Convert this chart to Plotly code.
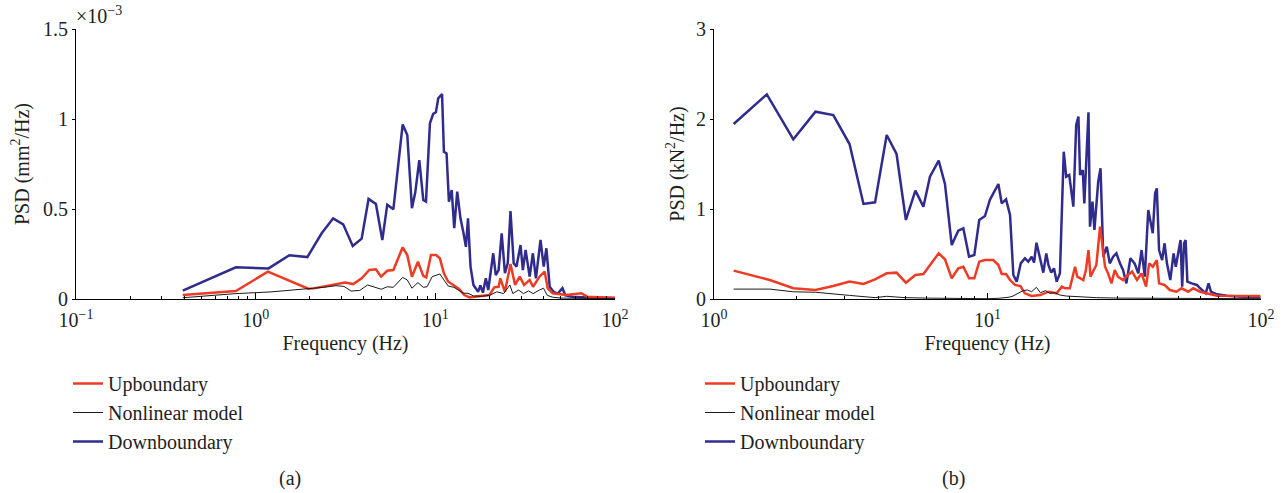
import plotly.graph_objects as go

# ---------------- Data (a) : displacement PSD (x1e-3 mm^2/Hz) ----------------
a_down_f = [0.393, 0.776, 1.18, 1.54, 1.94, 2.33, 2.70, 3.07, 3.47, 3.89, 4.25, 4.67, 5.07, 5.40,
            5.84, 6.58, 6.98, 7.41, 7.73, 8.14, 8.57, 8.87, 9.33, 9.73, 10.07, 10.38, 10.9, 11.16,
            11.55, 11.9, 12.33, 12.74, 13.24, 13.8, 14.3, 14.8, 15.2, 15.7, 16.3, 16.8, 17.3, 17.8,
            18.4, 19.1, 19.7, 21.0, 21.7, 22.5, 23.4, 24.4, 25.3, 26.2, 27.3, 28.3, 29.8, 30.7,
            31.8, 33.5, 34.9, 36.3, 38.5, 40.1, 41.5, 43.3, 45.5, 48.0, 51.0, 53.0, 58.0, 65.0,
            75.0, 85.0, 100.0]
a_down_v = [0.046, 0.176, 0.170, 0.243, 0.233, 0.365, 0.448, 0.415, 0.294, 0.335, 0.556, 0.528,
            0.328, 0.524, 0.498, 0.970, 0.911, 0.504, 0.591, 0.772, 0.550, 0.541, 0.976, 1.028,
            1.037, 1.115, 1.139, 0.818, 0.809, 0.540, 0.605, 0.393, 0.596, 0.448, 0.374, 0.290,
            0.448, 0.180, 0.078, 0.060, 0.040, 0.075, 0.035, 0.115, 0.050, 0.254, 0.133, 0.160,
            0.365, 0.143, 0.200, 0.489, 0.198, 0.180, 0.300, 0.160, 0.272, 0.124, 0.254, 0.115,
            0.328, 0.180, 0.282, 0.068, 0.040, 0.030, 0.060, 0.020, 0.012, 0.010, 0.008, 0.006,
            0.005]

a_up_f = [0.393, 0.776, 1.17, 1.96, 2.10, 2.70, 3.15, 3.49, 3.89, 4.29, 4.67, 4.99, 5.40, 5.84,
          6.58, 6.98, 7.41, 8.0, 8.57, 8.9, 9.45, 10.1, 10.6, 11.16, 11.8, 12.6, 13.6, 14.5, 15.5,
          17.8, 20.0, 21.3, 22.5, 23.0, 24.4, 26.2, 27.8, 29.5, 31.2, 33.5, 35.0, 38.0, 40.6,
          42.2, 45.0, 53.5, 65.0, 70.0, 100.0]
a_up_v = [0.022, 0.044, 0.152, 0.057, 0.059, 0.080, 0.091, 0.083, 0.115, 0.161, 0.165, 0.124,
          0.157, 0.161, 0.287, 0.244, 0.124, 0.207, 0.128, 0.120, 0.244, 0.244, 0.226, 0.143,
          0.096, 0.078, 0.054, 0.022, 0.009, 0.017, 0.022, 0.065, 0.068, 0.115, 0.040, 0.194,
          0.078, 0.124, 0.078, 0.106, 0.068, 0.124, 0.152, 0.060, 0.032, 0.022, 0.032, 0.013,
          0.005]

a_nl_f = [0.393, 0.776, 1.2, 1.6, 2.0, 2.4, 2.8, 3.1, 3.4, 3.8, 4.2, 4.67, 5.0, 5.4, 5.84, 6.58,
          6.98, 7.41, 8.0, 8.57, 9.0, 9.6, 10.6, 11.16, 11.8, 12.7, 13.4, 14.3, 15.2, 16.3, 18.0,
          20.0, 22.0, 24.0, 26.0, 27.0, 29.0, 31.0, 33.0, 35.0, 38.0, 40.0, 42.0, 45.0, 50.0,
          100.0]
a_nl_v = [0.007, 0.030, 0.039, 0.050, 0.055, 0.065, 0.074, 0.070, 0.044, 0.048, 0.078, 0.065,
          0.054, 0.068, 0.065, 0.120, 0.106, 0.060, 0.091, 0.065, 0.068, 0.124, 0.139, 0.106,
          0.072, 0.065, 0.050, 0.032, 0.032, 0.017, 0.015, 0.020, 0.040, 0.030, 0.078, 0.030,
          0.050, 0.030, 0.045, 0.030, 0.050, 0.060, 0.020, 0.010, 0.005, 0.002]

# ---------------- Data (b) : force PSD (kN^2/Hz) ----------------
b_down_f = [1.18, 1.56, 1.95, 2.35, 2.73, 3.13, 3.52, 3.88, 4.28, 4.65, 5.03, 5.45, 5.83, 6.16,
            6.63, 6.99, 7.40, 7.82, 8.16, 8.56, 8.95, 9.33, 9.79, 10.2, 10.5, 10.96, 11.27, 11.69,
            12.09, 12.43, 12.79, 13.23, 13.7, 14.1, 14.5, 14.8, 15.1, 15.6, 16.0, 16.4, 16.7, 17.1,
            17.5, 17.9, 18.4, 19.0, 19.4, 19.9, 20.3, 20.6, 21.1, 21.5, 21.8, 22.3, 22.6, 22.9,
            23.4, 23.7, 24.2, 24.6, 25.4, 25.9, 26.5, 27.3, 28.0, 28.8, 29.6, 30.5, 31.3, 32.2,
            33.3, 34.5, 35.6, 36.6, 37.6, 38.7, 39.4, 40.2, 41.0, 41.6, 42.4, 43.5, 44.4, 45.3,
            46.6, 47.9, 48.8, 49.9, 50.8, 51.5, 52.3, 53.0, 53.8, 55.8, 58.3, 59.9, 62.8, 64.3,
            65.6, 69.0, 75.0, 86.0, 99.5]
b_down_v = [1.944, 2.274, 1.774, 2.081, 2.044, 1.722, 1.056, 1.074, 1.822, 1.611, 0.878, 1.204,
            1.026, 1.359, 1.537, 1.278, 0.600, 0.759, 0.786, 0.470, 0.489, 0.878, 0.922, 1.100,
            1.174, 1.278, 1.063, 1.107, 0.933, 0.267, 0.193, 0.396, 0.452, 0.415, 0.470, 0.404,
            0.626, 0.433, 0.293, 0.507, 0.378, 0.293, 0.341, 0.193, 0.285, 1.637, 1.359, 1.378,
            1.137, 1.026, 1.933, 2.026, 1.378, 1.433, 1.063, 1.507, 2.074, 0.804, 1.081, 0.767,
            1.304, 1.452, 0.470, 0.581, 0.396, 0.470, 0.507, 0.396, 0.322, 0.174, 0.452, 0.396,
            0.285, 0.544, 0.248, 0.989, 0.878, 0.730, 1.174, 1.230, 0.544, 0.433, 0.619, 0.396,
            0.211, 0.507, 0.359, 0.507, 0.656, 0.137, 0.619, 0.656, 0.193, 0.174, 0.156, 0.119,
            0.063, 0.174, 0.081, 0.052, 0.037, 0.026, 0.020]

b_up_f = [1.18, 1.60, 1.95, 2.35, 2.73, 3.13, 3.52, 3.88, 4.28, 4.65, 5.03, 5.45, 5.83, 6.16,
          6.63, 6.99, 7.40, 7.82, 8.16, 8.56, 8.95, 9.33, 9.79, 10.5, 10.96, 11.27, 11.69, 12.09,
          12.6, 13.2, 13.7, 14.5, 15.6, 16.7, 17.9, 18.7, 19.2, 20.0, 20.6, 20.9, 21.3, 21.8,
          22.4, 22.9, 23.4, 23.8, 24.4, 25.0, 25.8, 26.4, 26.9, 27.6, 28.4, 29.2, 30.0, 31.3,
          32.6, 33.8, 35.2, 36.6, 38.0, 39.0, 40.2, 41.6, 42.4, 44.4, 46.4, 49.1, 51.2, 54.2,
          56.5, 59.9, 63.2, 69.0, 86.0, 99.5]
b_up_v = [0.315, 0.211, 0.119, 0.100, 0.144, 0.193, 0.167, 0.219, 0.285, 0.293, 0.181, 0.267,
          0.278, 0.378, 0.507, 0.441, 0.230, 0.341, 0.359, 0.230, 0.230, 0.415, 0.433, 0.433,
          0.378, 0.278, 0.278, 0.211, 0.156, 0.144, 0.063, 0.033, 0.044, 0.081, 0.063, 0.137,
          0.119, 0.119, 0.267, 0.359, 0.248, 0.230, 0.211, 0.322, 0.544, 0.248, 0.322, 0.378,
          0.804, 0.581, 0.359, 0.285, 0.174, 0.322, 0.248, 0.211, 0.267, 0.304, 0.211, 0.285,
          0.137, 0.396, 0.359, 0.433, 0.174, 0.156, 0.100, 0.081, 0.119, 0.081, 0.119, 0.081,
          0.063, 0.037, 0.033, 0.033]

b_nl_f = [1.18, 1.6, 1.95, 2.35, 3.13, 3.88, 4.28, 5.0, 6.0, 8.0, 10.0, 11.0, 12.0, 12.4, 13.5,
          14.0, 14.5, 15.1, 15.6, 16.3, 16.9, 17.6, 18.4, 19.4, 22.0, 25.0, 30.0, 40.0, 60.0,
          100.0]
b_nl_v = [0.110, 0.110, 0.080, 0.075, 0.040, 0.015, 0.030, 0.015, 0.010, 0.005, 0.003, 0.008,
          0.020, 0.033, 0.093, 0.100, 0.081, 0.130, 0.070, 0.093, 0.063, 0.070, 0.044, 0.033,
          0.020, 0.015, 0.010, 0.008, 0.005, 0.003]

RED = "#EE3B24"
BLUE = "#302C8E"
BLACK = "#1a1a1a"
TXT = "#231f20"
FONT = "Liberation Serif"
FS = 20

W, H = 1288, 493

fig = go.Figure()

def add(x, y, name, color, width, xa, ya, legend, rank):
    fig.add_trace(go.Scatter(x=x, y=y, name=name, mode="lines",
                             line=dict(color=color, width=width),
                             xaxis=xa, yaxis=ya, legend=legend, legendrank=rank))

# blue drawn first so red/black sit on top
add(a_down_f, a_down_v, "Downboundary", BLUE, 2.5, "x", "y", "legend", 3)
add(a_up_f, a_up_v, "Upboundary", RED, 2.5, "x", "y", "legend", 1)
add(a_nl_f, a_nl_v, "Nonlinear model", BLACK, 1, "x", "y", "legend", 2)
add(b_down_f, b_down_v, "Downboundary", BLUE, 2.5, "x2", "y2", "legend2", 3)
add(b_up_f, b_up_v, "Upboundary", RED, 2.5, "x2", "y2", "legend2", 1)
add(b_nl_f, b_nl_v, "Nonlinear model", BLACK, 1, "x2", "y2", "legend2", 2)

def minor_vals(lo, hi):
    out = []
    for d in range(lo, hi):
        for k in range(2, 10):
            out.append(k * 10 ** d)
    return out

ydom = [(H - 299) / H, (H - 29) / H]
common_x = dict(type="log", showline=True, linecolor="black", linewidth=1, ticks="inside",
                ticklen=6, tickcolor="black", showgrid=False, zeroline=False, automargin=False,
                ticklabelstandoff=3,
                tickfont=dict(family=FONT, size=FS, color=TXT),
                title=dict(text="Frequency (Hz)", font=dict(family=FONT, size=FS, color=TXT),
                           standoff=5))
common_y = dict(showline=True, linecolor="black", linewidth=1, ticks="outside", ticklen=3,
                tickcolor="black", showgrid=False, zeroline=False, automargin=False,
                tickfont=dict(family=FONT, size=FS, color=TXT))

leg = dict(xanchor="left", yanchor="top", font=dict(family=FONT, size=FS, color=TXT),
           bgcolor="rgba(0,0,0,0)", tracegroupgap=0, itemwidth=30)

fig.update_layout(
    width=W, height=H, margin=dict(l=0, r=0, t=0, b=0),
    paper_bgcolor="white", plot_bgcolor="white",
    xaxis=dict(common_x, domain=[76 / W, 615 / W], range=[-1, 2], anchor="y",
               tickvals=[0.1, 1, 10, 100],
               ticktext=["10<sup>−1</sup>", "10<sup>0</sup>", "10<sup>1</sup>", "10<sup>2</sup>"],
               minor=dict(tickvals=minor_vals(-1, 2), ticks="inside", ticklen=3, tickcolor="black")),
    yaxis=dict(common_y, domain=ydom, range=[0, 1.5], anchor="x",
               tickvals=[0, 0.5, 1, 1.5], ticktext=["0", "0.5", "1", "1.5"],
               title=dict(text="PSD (mm<sup>2</sup>/Hz)", font=dict(family=FONT, size=FS, color=TXT),
                          standoff=8)),
    xaxis2=dict(common_x, domain=[714 / W, 1261 / W], range=[0, 2], anchor="y2",
                tickvals=[1, 10, 100],
                ticktext=["10<sup>0</sup>", "10<sup>1</sup>", "10<sup>2</sup>"],
                minor=dict(tickvals=minor_vals(0, 2), ticks="inside", ticklen=3, tickcolor="black")),
    yaxis2=dict(common_y, domain=ydom, range=[0, 3], anchor="x2",
                tickvals=[0, 1, 2, 3], ticktext=["0", "1", "2", "3"],
                title=dict(text="PSD (kN<sup>2</sup>/Hz)", font=dict(family=FONT, size=FS, color=TXT),
                           standoff=6)),
    legend=dict(leg, x=68 / W, y=(H - 364) / H),
    legend2=dict(leg, x=700 / W, y=(H - 364) / H),
    annotations=[
        dict(text="×10<sup>−3</sup>", xref="paper", yref="paper", x=74 / W, y=(H - 15) / H,
             xanchor="left", yanchor="middle", showarrow=False,
             font=dict(family=FONT, size=FS, color=TXT)),
        dict(text="(a)", xref="paper", yref="paper", x=290 / W, y=(H - 478) / H,
             xanchor="center", yanchor="middle", showarrow=False,
             font=dict(family=FONT, size=FS, color=TXT)),
        dict(text="(b)", xref="paper", yref="paper", x=953 / W, y=(H - 478) / H,
             xanchor="center", yanchor="middle", showarrow=False,
             font=dict(family=FONT, size=FS, color=TXT)),
    ],
)

fig.write_html("out.html")
